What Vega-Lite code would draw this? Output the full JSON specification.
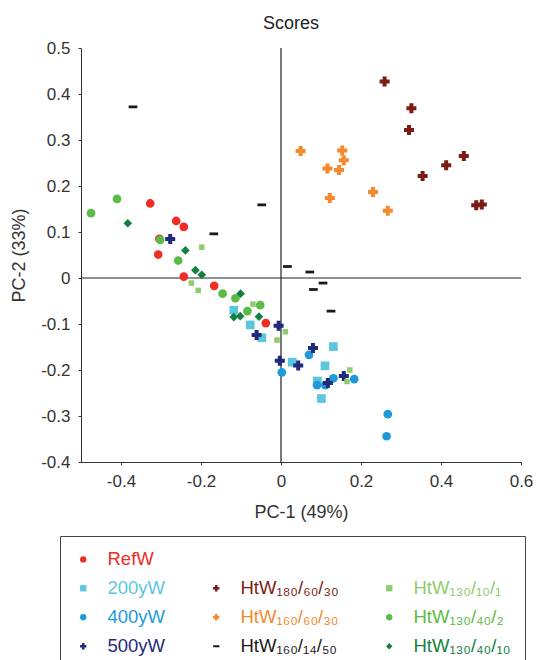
{
  "$schema": "https://vega.github.io/schema/vega-lite/v6.json",
  "autosize": {"type": "none"},
  "padding": {"left": 81, "top": 48, "right": 19, "bottom": 198},
  "width": 440,
  "height": 414,
  "background": "#ffffff",
  "title": {"text": "Scores", "fontSize": 18, "fontWeight": "normal", "font": "Liberation Sans", "color": "#222", "offset": 6, "dx": -10},
  "config": {
    "view": {"stroke": null},
    "font": "Liberation Sans",
    "locale": {"number": {"decimal": ".", "thousands": ",", "grouping": [3], "currency": ["$", ""], "minus": "-"}},
    "axis": {"grid": false, "domainColor": "#333", "tickColor": "#333", "labelColor": "#333", "titleColor": "#333", "labelFont": "Liberation Sans", "titleFont": "Liberation Sans", "labelFontSize": 17, "titleFontSize": 18, "titleFontWeight": "normal", "tickSize": 3, "labelOverlap": false}
  },
  "datasets": {
    "pts": [
      {"g": "RefW", "x": -0.327, "y": 0.162}, {"g": "RefW", "x": -0.262, "y": 0.124}, {"g": "RefW", "x": -0.243, "y": 0.111}, {"g": "RefW", "x": -0.304, "y": 0.085},
      {"g": "RefW", "x": -0.307, "y": 0.051}, {"g": "RefW", "x": -0.243, "y": 0.003}, {"g": "RefW", "x": -0.167, "y": -0.017}, {"g": "RefW", "x": -0.038, "y": -0.098},
      {"g": "200yW", "x": -0.118, "y": -0.07}, {"g": "200yW", "x": -0.077, "y": -0.102}, {"g": "200yW", "x": -0.048, "y": -0.13}, {"g": "200yW", "x": 0.028, "y": -0.183},
      {"g": "200yW", "x": 0.11, "y": -0.191}, {"g": "200yW", "x": 0.131, "y": -0.149}, {"g": "200yW", "x": 0.091, "y": -0.224}, {"g": "200yW", "x": 0.101, "y": -0.262},
      {"g": "400yW", "x": 0.07, "y": -0.167}, {"g": "400yW", "x": 0.002, "y": -0.205}, {"g": "400yW", "x": 0.09, "y": -0.233}, {"g": "400yW", "x": 0.111, "y": -0.233},
      {"g": "400yW", "x": 0.131, "y": -0.218}, {"g": "400yW", "x": 0.183, "y": -0.22}, {"g": "400yW", "x": 0.267, "y": -0.296}, {"g": "400yW", "x": 0.264, "y": -0.344},
      {"g": "500yW", "x": -0.277, "y": 0.085}, {"g": "500yW", "x": -0.006, "y": -0.104}, {"g": "500yW", "x": -0.061, "y": -0.124}, {"g": "500yW", "x": 0.08, "y": -0.152},
      {"g": "500yW", "x": -0.003, "y": -0.18}, {"g": "500yW", "x": 0.043, "y": -0.19}, {"g": "500yW", "x": 0.117, "y": -0.228}, {"g": "500yW", "x": 0.157, "y": -0.213},
      {"g": "HtW180/60/30", "x": 0.259, "y": 0.427}, {"g": "HtW180/60/30", "x": 0.326, "y": 0.369}, {"g": "HtW180/60/30", "x": 0.32, "y": 0.322}, {"g": "HtW180/60/30", "x": 0.457, "y": 0.265},
      {"g": "HtW180/60/30", "x": 0.413, "y": 0.245}, {"g": "HtW180/60/30", "x": 0.354, "y": 0.222}, {"g": "HtW180/60/30", "x": 0.488, "y": 0.158}, {"g": "HtW180/60/30", "x": 0.502, "y": 0.16},
      {"g": "HtW160/60/30", "x": 0.049, "y": 0.276}, {"g": "HtW160/60/30", "x": 0.153, "y": 0.277}, {"g": "HtW160/60/30", "x": 0.157, "y": 0.256}, {"g": "HtW160/60/30", "x": 0.116, "y": 0.238},
      {"g": "HtW160/60/30", "x": 0.145, "y": 0.235}, {"g": "HtW160/60/30", "x": 0.122, "y": 0.174}, {"g": "HtW160/60/30", "x": 0.23, "y": 0.187}, {"g": "HtW160/60/30", "x": 0.267, "y": 0.146},
      {"g": "HtW160/14/50", "x": -0.37, "y": 0.372}, {"g": "HtW160/14/50", "x": -0.168, "y": 0.096}, {"g": "HtW160/14/50", "x": -0.048, "y": 0.159}, {"g": "HtW160/14/50", "x": 0.016, "y": 0.025},
      {"g": "HtW160/14/50", "x": 0.072, "y": 0.013}, {"g": "HtW160/14/50", "x": 0.105, "y": -0.011}, {"g": "HtW160/14/50", "x": 0.081, "y": -0.025}, {"g": "HtW160/14/50", "x": 0.125, "y": -0.072},
      {"g": "HtW130/10/1", "x": -0.198, "y": 0.067}, {"g": "HtW130/10/1", "x": -0.224, "y": -0.011}, {"g": "HtW130/10/1", "x": -0.207, "y": -0.027}, {"g": "HtW130/10/1", "x": -0.07, "y": -0.057},
      {"g": "HtW130/10/1", "x": 0.011, "y": -0.117}, {"g": "HtW130/10/1", "x": -0.01, "y": -0.135}, {"g": "HtW130/10/1", "x": 0.172, "y": -0.2}, {"g": "HtW130/10/1", "x": 0.165, "y": -0.225},
      {"g": "HtW130/40/2", "x": -0.475, "y": 0.141}, {"g": "HtW130/40/2", "x": -0.41, "y": 0.172}, {"g": "HtW130/40/2", "x": -0.302, "y": 0.083}, {"g": "HtW130/40/2", "x": -0.257, "y": 0.038},
      {"g": "HtW130/40/2", "x": -0.146, "y": -0.034}, {"g": "HtW130/40/2", "x": -0.114, "y": -0.044}, {"g": "HtW130/40/2", "x": -0.084, "y": -0.072}, {"g": "HtW130/40/2", "x": -0.052, "y": -0.059},
      {"g": "HtW130/40/10", "x": -0.383, "y": 0.119}, {"g": "HtW130/40/10", "x": -0.239, "y": 0.06}, {"g": "HtW130/40/10", "x": -0.214, "y": 0.017}, {"g": "HtW130/40/10", "x": -0.198, "y": 0.007},
      {"g": "HtW130/40/10", "x": -0.101, "y": -0.034}, {"g": "HtW130/40/10", "x": -0.118, "y": -0.085}, {"g": "HtW130/40/10", "x": -0.102, "y": -0.083}, {"g": "HtW130/40/10", "x": -0.055, "y": -0.084}
    ]
  },
  "layer": [
    {
      "data": {"values": [{"v": 0}]},
      "mark": {"type": "rule", "color": "#222", "strokeWidth": 1.2},
      "encoding": {"x": {"field": "v", "type": "quantitative", "title": "PC-1 (49%)",
          "scale": {"domain": [-0.5, 0.6], "nice": false, "zero": false},
          "axis": {"values": [-0.4, -0.2, 0, 0.2, 0.4, 0.6], "format": "~g", "labelPadding": 8, "titlePadding": 14, "labelFlush": false, "labelOverlap": false}}}
    },
    {
      "data": {"values": [{"v": 0}]},
      "mark": {"type": "rule", "color": "#222", "strokeWidth": 1.2},
      "encoding": {"y": {"field": "v", "type": "quantitative", "title": "PC-2 (33%)",
          "scale": {"domain": [-0.4, 0.5], "nice": false, "zero": false},
          "axis": {"values": [-0.4, -0.35, -0.3, -0.25, -0.2, -0.15, -0.1, -0.05, 0, 0.05, 0.1, 0.15, 0.2, 0.25, 0.3, 0.35, 0.4, 0.45, 0.5], "labelExpr": "round(datum.value*100) % 10 == 0 ? replace(format(datum.value, '.1~f'), '\u2212', '-') : ''", "labelPadding": 8, "titlePadding": 12, "labelFlush": false}}}
    },
    {
      "data": {"name": "pts"},
      "transform": [{"filter": "datum.g !== 'HtW130/10/1' && indexof(['500yW','HtW180/60/30','HtW160/60/30'], datum.g) < 0"}],
      "mark": {"type": "point", "filled": true, "opacity": 1, "size": 76},
      "encoding": {
        "x": {"field": "x", "type": "quantitative"},
        "y": {"field": "y", "type": "quantitative"},
        "color": {"field": "g", "type": "nominal",
          "scale": {"domain": ["RefW", " ", "  ", "200yW", "HtW180/60/30", "HtW130/10/1", "400yW", "HtW160/60/30", "HtW130/40/2", "500yW", "HtW160/14/50", "HtW130/40/10"],
            "range": ["#ee2d24", "transparent", "transparent", "#5cc6de", "#7a1c14", "#8dcc6a", "#1e9ad8", "#f6892c", "#5cbb45", "#1f2a7a", "#1a1a1a", "#138040"]},
          "legend": {"orient": "none", "legendX": -21, "legendY": 488, "direction": "horizontal", "columns": 3, "title": null,
            "strokeColor": "#444", "padding": 14, "symbolSize": 40, "symbolType": "circle",
            "labelFont": "Liberation Sans", "labelFontSize": 18.5, "labelLimit": 300,
            "labelColor": {"expr": "scale('color', datum.value)"},
            "labelOffset": 15, "rowPadding": 10, "columnPadding": 41,
            "labelExpr": "({'HtW180/60/30': 'HtW\u2081\u2088\u2080/\u2086\u2080/\u2083\u2080', 'HtW160/60/30': 'HtW\u2081\u2086\u2080/\u2086\u2080/\u2083\u2080', 'HtW160/14/50': 'HtW\u2081\u2086\u2080/\u2081\u2084/\u2085\u2080', 'HtW130/10/1': 'HtW\u2081\u2083\u2080/\u2081\u2080/\u2081', 'HtW130/40/2': 'HtW\u2081\u2083\u2080/\u2084\u2080/\u2082', 'HtW130/40/10': 'HtW\u2081\u2083\u2080/\u2084\u2080/\u2081\u2080'})[datum.label] || datum.label"}},
        "shape": {"field": "g", "type": "nominal",
          "scale": {"domain": ["RefW", " ", "  ", "200yW", "HtW180/60/30", "HtW130/10/1", "400yW", "HtW160/60/30", "HtW130/40/2", "500yW", "HtW160/14/50", "HtW130/40/10"],
            "range": ["circle", "circle", "circle", "square", "cross", "square", "circle", "cross", "circle", "cross", "M-1,-0.32L1,-0.32L1,0.32L-1,0.32Z", "diamond"]}}
      }
    },
    {
      "data": {"name": "pts"},
      "transform": [{"filter": "indexof(['500yW','HtW180/60/30','HtW160/60/30'], datum.g) >= 0"}],
      "mark": {"type": "point", "filled": true, "opacity": 1, "size": 100},
      "encoding": {
        "x": {"field": "x", "type": "quantitative"},
        "y": {"field": "y", "type": "quantitative"},
        "color": {"field": "g", "type": "nominal"},
        "shape": {"field": "g", "type": "nominal"}
      }
    },
    {
      "data": {"name": "pts"},
      "transform": [{"filter": "datum.g === 'HtW130/10/1'"}],
      "mark": {"type": "point", "filled": true, "opacity": 1, "size": 30},
      "encoding": {
        "x": {"field": "x", "type": "quantitative"},
        "y": {"field": "y", "type": "quantitative"},
        "color": {"field": "g", "type": "nominal"},
        "shape": {"field": "g", "type": "nominal"}
      }
    }
  ]
}
